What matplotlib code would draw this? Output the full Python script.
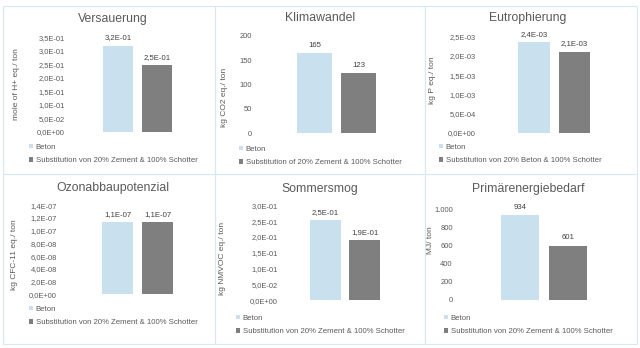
import matplotlib
matplotlib.use("Agg")
import matplotlib.pyplot as plt
from matplotlib.patches import Rectangle
import numpy as np

plt.rcParams['font.family'] = ['Liberation Sans', 'DejaVu Sans']

# ---------------- data ----------------
titles = ["Versauerung", "Klimawandel", "Eutrophierung",
          "Ozonabbaupotenzial", "Sommersmog", "Primärenergiebedarf"]
ylabels = ["mole of H+ eq./ ton", "kg CO2 eq./ ton", "kg P eq./ ton",
           "kg CFC-11 eq./ ton", "kg NMVOC eq./ ton", "MJ/ ton"]
series1_labels = ["Beton"] * 6
series2_labels = ["Substitution von 20% Zement & 100% Schotter",
                  "Substitution of 20% Zement & 100% Schotter",
                  "Substitution von 20% Beton & 100% Schotter",
                  "Substitution von 20% Zement & 100% Schotter",
                  "Substitution von 20% Zement & 100% Schotter",
                  "Substitution von 20% Zement & 100% Schotter"]
beton_values = [0.32, 165, 2.37e-3, 1.14e-7, 0.253, 934]
subst_values = [0.248, 123, 2.11e-3, 1.14e-7, 0.191, 601]
y_max = [0.35, 200, 2.5e-3, 1.4e-7, 0.30, 1000]
y_step = [0.05, 50, 5e-4, 2e-8, 0.05, 200]
tick_format = ["sci", "int", "sci", "sci", "sci", "int"]

# ---------------- layout (pixels) ----------------
W, H = 640, 348
geom = [
    dict(ax=(98.5, 176.5, 37.5, 132), pad=33.5, ylx=17, yly=84, title=(113, 19), leg=(29, 146.5)),
    dict(ax=(292.5, 380.5, 36, 133), pad=40.5, ylx=224.5, yly=97, title=(320, 18), leg=(239, 148.5)),
    dict(ax=(513.75, 594.75, 36.7, 132.7), pad=37.75, ylx=433, yly=80, title=(528, 18), leg=(439, 146.5)),
    dict(ax=(97.5, 177.5, 205.3, 294.3), pad=40.5, ylx=15, yly=255, title=(113, 188), leg=(29, 308.5)),
    dict(ax=(306, 384, 205.3, 300.3), pad=28, ylx=223, yly=258, title=(320, 189), leg=(236, 317.5)),
    dict(ax=(495.75, 592.25, 209.5, 300), pad=43, ylx=430.5, yly=240, title=(528, 189), leg=(444, 317.5)),
]
borders = [(3, 5.5, 215, 173.5), (215, 5.5, 425, 173.5), (425, 5.5, 637, 173.5),
           (3, 173.5, 215, 343.5), (215, 173.5, 425, 343.5), (425, 173.5, 637, 343.5)]

c_beton = "#C9E0EE"
c_subst = "#7F7F7F"
c_text = "#595959"
c_val = "#404040"
c_border = "#DAE7F0"

fig = plt.figure(figsize=(W / 100, H / 100), dpi=100)
fig.patch.set_facecolor("white")


def fx(x):
    return x / W


def fy(y):
    return 1 - y / H


for (x0, y0, x1, y1) in borders:
    fig.patches.append(Rectangle((fx(x0), fy(y1)), fx(x1) - fx(x0), fy(y0) - fy(y1),
                                 transform=fig.transFigure, fill=False,
                                 edgecolor=c_border, linewidth=0.8))


def fmt(v, kind):
    if kind == "sci":
        return "{:.1E}".format(v).replace(".", ",")
    return "{:,.0f}".format(v).replace(",", ".")


for i in range(6):
    g = geom[i]
    l, r, t, b = g["ax"]
    ax = fig.add_axes([fx(l), fy(b), fx(r) - fx(l), fy(t) - fy(b)])
    ax.set_facecolor("none")
    x = np.arange(2)
    vals = [beton_values[i], subst_values[i]]
    bars1 = ax.bar(x[0], vals[0], width=0.78, color=c_beton, label=series1_labels[i])
    bars2 = ax.bar(x[1], vals[1], width=0.78, color=c_subst, label=series2_labels[i])
    ax.set_xlim(-0.5, 1.5)
    ax.set_ylim(0, y_max[i])
    ticks = np.arange(0, y_max[i] + y_step[i] / 2, y_step[i])
    ax.set_yticks(ticks)
    ax.set_yticklabels([fmt(v, tick_format[i]) for v in ticks])
    ax.set_xticks([])
    ax.tick_params(axis="y", length=0, pad=g["pad"] * 0.72, labelsize=5.4, labelcolor=c_text)
    for s in ax.spines.values():
        s.set_visible(False)
    for bc, v in zip([bars1, bars2], vals):
        ax.annotate(fmt(v, tick_format[i]) if tick_format[i] == "sci" else "{:.0f}".format(v),
                    xy=(bc[0].get_x() + bc[0].get_width() / 2, v),
                    xytext=(0, 5.5), textcoords="offset points",
                    ha="center", va="center", fontsize=5.6, color=c_val)
    ax.set_ylabel(ylabels[i], fontsize=6.0, color=c_text)
    ax.yaxis.set_label_coords(fx(g["ylx"]), fy(g["yly"]), transform=fig.transFigure)
    ax.yaxis.label.set_verticalalignment("center")
    ax.yaxis.label.set_horizontalalignment("center")
    fig.text(fx(g["title"][0]), fy(g["title"][1]), titles[i], ha="center", va="center",
             fontsize=8.8, color=c_text)
    lx, ly = g["leg"]
    leg = ax.legend(handles=[bars1, bars2], loc="center left",
                    bbox_to_anchor=(fx(lx), fy(ly + 7.5)), bbox_transform=fig.transFigure,
                    frameon=False, fontsize=5.6, labelcolor=c_text,
                    handlelength=0.5, handleheight=0.5, handletextpad=0.35,
                    labelspacing=0.85, borderpad=0, borderaxespad=0)

fig.savefig("out.png", dpi=100, facecolor="white")
